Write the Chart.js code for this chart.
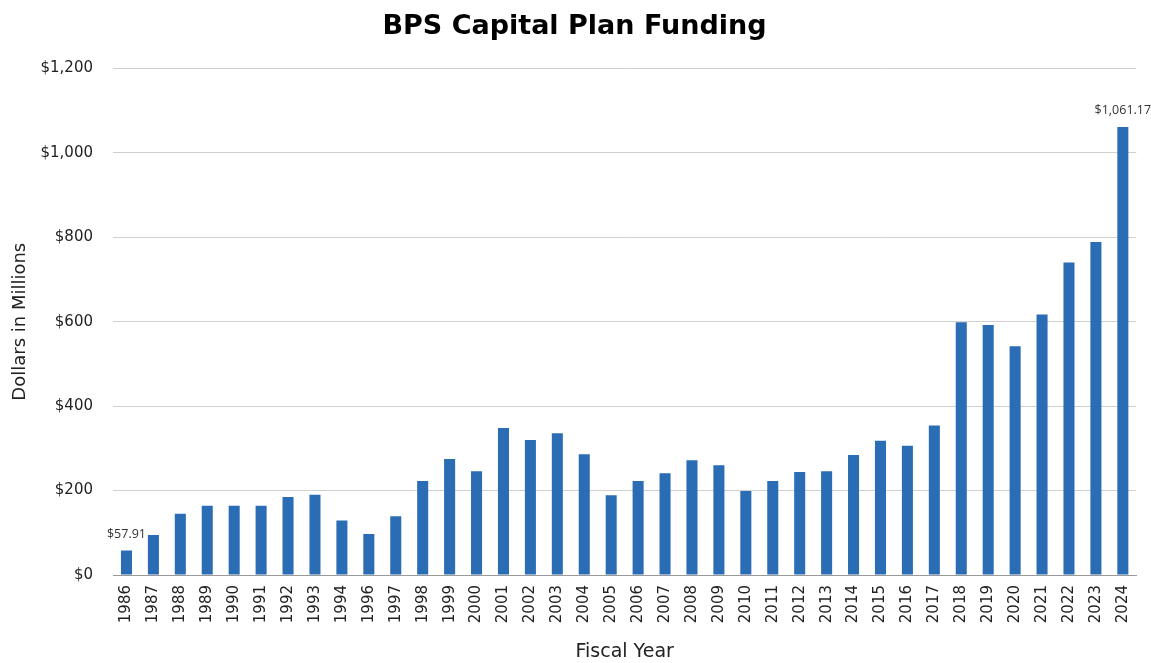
<!DOCTYPE html>
<html>
<head>
<meta charset="utf-8">
<script src="https://cdn.jsdelivr.net/npm/chart.js@4"></script>
<style>
  html, body { margin: 0; padding: 0; background: #fff; }
  #wrap { width: 1151px; height: 663px; }
</style>
</head>
<body>
<div id="wrap"><canvas id="capital-chart"></canvas></div>
<script>
// fiscal years (no 1995 in the source)
var years = ['1986','1987','1988','1989','1990','1991','1992','1993','1994','1996','1997',
  '1998','1999','2000','2001','2002','2003','2004','2005','2006','2007','2008','2009',
  '2010','2011','2012','2013','2014','2015','2016','2017','2018','2019','2020','2021',
  '2022','2023','2024'];

// funding, $ millions
var funding = [57.91, 95, 145, 164, 164, 164, 185, 190, 129, 97, 139,
  223, 275, 246, 348, 320, 336, 286, 189, 223, 241, 272, 260,
  199, 223, 244, 246, 284, 318, 306, 354, 599, 592, 542, 617,
  740, 789, 1061.17];

// only these bars get a value label
var labelled = [0, 37];

function money(v, dec) {
  return '$' + v.toLocaleString('en-US', { minimumFractionDigits: dec, maximumFractionDigits: dec });
}

var endLabels = {
  id: 'endLabels',
  afterDatasetsDraw: function (chart) {
    var ctx = chart.ctx;
    var bars = chart.getDatasetMeta(0).data;
    ctx.save();
    ctx.font = '12.5px "Open Sans", sans-serif';
    ctx.fillStyle = '#333';
    ctx.textAlign = 'center';
    ctx.textBaseline = 'bottom';
    labelled.forEach(function (i) {
      ctx.fillText(money(funding[i], 2), bars[i].x, bars[i].y - 10);
    });
    ctx.restore();
  }
};

var ctx = document.getElementById('capital-chart').getContext('2d');
var chart = new Chart(ctx, {
  type: 'bar',
  data: {
    labels: years,
    datasets: [{
      data: funding,
      backgroundColor: '#2a6db5',
      borderWidth: 0,
      barPercentage: 0.82,
      categoryPercentage: 0.5
    }]
  },
  plugins: [endLabels],
  options: {
    responsive: true,
    maintainAspectRatio: false,
    animation: false,
    layout: { padding: { left: 10, right: 12, top: 0, bottom: 0 } },
    plugins: {
      legend: { display: false },
      tooltip: { enabled: false },
      title: {
        display: true,
        text: 'BPS Capital Plan Funding',
        color: '#000',
        font: { family: '"DejaVu Sans", sans-serif', size: 27, weight: 'bold' },
        padding: { top: 11, bottom: 25 }
      }
    },
    scales: {
      x: {
        grid: { display: false, drawTicks: false },
        border: { display: true, color: '#999' },
        ticks: {
          color: '#222',
          font: { family: '"DejaVu Sans", sans-serif', size: 15 },
          minRotation: 90,
          maxRotation: 90,
          autoSkip: false,
          padding: 10
        },
        title: {
          display: true,
          text: 'Fiscal Year',
          color: '#222',
          font: { family: '"DejaVu Sans", sans-serif', size: 19 },
          padding: { top: 7, bottom: 0 }
        }
      },
      y: {
        min: 0,
        max: 1200,
        grid: { color: '#d0d0d0', drawTicks: false },
        border: { display: false },
        ticks: {
          stepSize: 200,
          color: '#222',
          font: { family: '"DejaVu Sans", sans-serif', size: 15 },
          padding: 20,
          callback: function (v) { return money(v, 0); }
        },
        title: {
          display: true,
          text: 'Dollars in Millions',
          color: '#222',
          font: { family: '"DejaVu Sans", sans-serif', size: 18 },
          padding: { top: 0, bottom: 6 }
        },
        afterFit: function (scale) { scale.width = 103; }
      }
    }
  }
});
</script>
</body>
</html>
